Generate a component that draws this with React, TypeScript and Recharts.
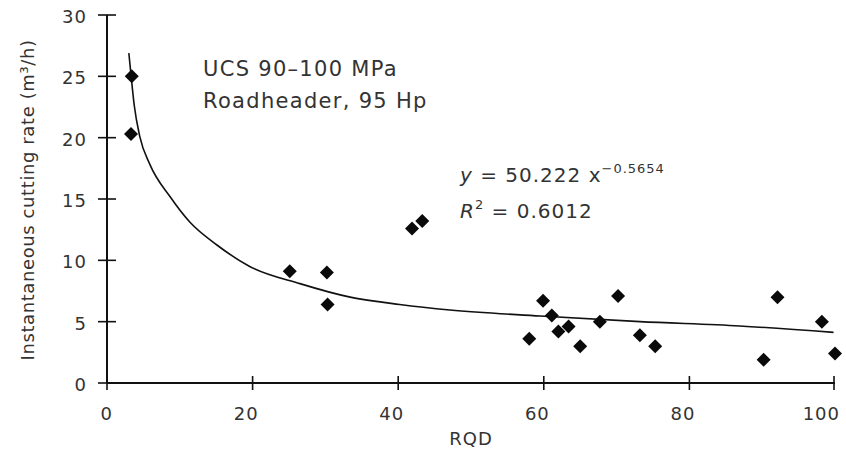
import { ScatterChart, Scatter, XAxis, YAxis } from "recharts"

// measured points (RQD %, instantaneous cutting rate m3/h)
const rqd = [3.4, 3.3, 25.1, 30.2, 30.3, 41.9, 43.3, 58.0, 59.9, 61.1, 62.0, 63.4, 65.0, 67.7, 70.2, 73.2, 75.3, 90.2, 92.1, 98.2, 100]
const cuttingRate = [25.0, 20.3, 9.1, 9.0, 6.4, 12.6, 13.2, 3.6, 6.7, 5.5, 4.2, 4.6, 3.0, 5.0, 7.1, 3.9, 3.0, 1.9, 7.0, 5.0, 2.4]

// power trend line
const fitRqd = [3.0, 3.3, 3.75, 4.5, 5.9, 8.65, 11.4, 15.1, 19.6, 26.5, 33.4, 40.2, 47.1, 59.5, 73.2, 86.9, 99.8]
const fitRate = [26.9, 25.1, 22.6, 20.1, 17.8, 15.2, 13.1, 11.25, 9.5, 8.1, 7.0, 6.4, 5.95, 5.46, 5.0, 4.65, 4.13]

const xTicks = [0, 20, 40, 60, 80, 100]
const yTicks = [0, 5, 10, 15, 20, 25, 30]

const points = rqd.map((x, i) => ({ x, y: cuttingRate[i] }))
const fit = fitRqd.map((x, i) => ({ x, y: fitRate[i] }))

const W = 846
const H = 459
const font = "'DejaVu Sans', Verdana, sans-serif"

const XTick = (props: any) => {
  const { x, y, payload } = props
  return (
    <g>
      <line x1={x} x2={x} y1={y - 7} y2={y + 7} stroke="#111" strokeWidth={1.6} />
      <text x={x + 6} y={y + 37} textAnchor="end" fontSize={18} fill="#333" fontFamily={font} letterSpacing={1}>
        {payload.value}
      </text>
    </g>
  )
}

const YTick = (props: any) => {
  const { x, y, payload } = props
  return (
    <g>
      <line x1={x - 9} x2={x + 9} y1={y} y2={y} stroke="#111" strokeWidth={1.6} />
      <text x={x - 20} y={y + 8} textAnchor="end" fontSize={18} fill="#333" fontFamily={font} letterSpacing={1}>
        {payload.value}
      </text>
    </g>
  )
}

const Diamond = (props: any) => {
  const { cx, cy } = props
  return <path d={`M${cx},${cy - 7}L${cx + 7},${cy}L${cx},${cy + 7}L${cx - 7},${cy}Z`} fill="#0a0a0a" />
}

export default function App() {
  return (
    <div style={{ position: "absolute", left: 0, top: 0, width: W, height: H, background: "#fff" }}>
      <ScatterChart width={W} height={H} margin={{ top: 15, right: 11, bottom: 0, left: 0 }}>
        <XAxis
          type="number"
          dataKey="x"
          domain={[0, 100]}
          ticks={xTicks}
          height={76}
          axisLine={{ stroke: "#111", strokeWidth: 2 }}
          tickLine={false}
          tickSize={0}
          tickMargin={0}
          tick={<XTick />}
        />
        <YAxis
          type="number"
          dataKey="y"
          domain={[0, 30]}
          ticks={yTicks}
          width={107}
          axisLine={{ stroke: "#111", strokeWidth: 2 }}
          tickLine={false}
          tickSize={0}
          tickMargin={0}
          tick={<YTick />}
        />
        <Scatter
          data={fit}
          line={{ stroke: "#111", strokeWidth: 1.6 }}
          lineJointType="monotoneX"
          shape={() => <g />}
          isAnimationActive={false}
        />
        <Scatter data={points} shape={<Diamond />} isAnimationActive={false} />
      </ScatterChart>
      <svg width={W} height={H} style={{ position: "absolute", left: 0, top: 0, pointerEvents: "none" }}>
        <g fontFamily={font} fill="#333">
          <text x={471} y={445} textAnchor="middle" fontSize={18} letterSpacing={1}>RQD</text>
          <text
            transform="translate(34,200) rotate(-90)"
            textAnchor="middle"
            fontSize={18}
            letterSpacing={0.6}
          >
            Instantaneous cutting rate (m³/h)
          </text>
          <text x={203} y={76} fontSize={21} letterSpacing={1.3}>UCS 90–100 MPa</text>
          <text x={203} y={108} fontSize={21} letterSpacing={1.3}>Roadheader, 95 Hp</text>
          <text x={460} y={182} fontSize={20} letterSpacing={1}>
            <tspan fontStyle="italic">y</tspan> = 50.222 x
            <tspan fontSize={13} dy={-9}>−0.5654</tspan>
          </text>
          <text x={460} y={218} fontSize={20} letterSpacing={1}>
            <tspan fontStyle="italic">R</tspan>
            <tspan fontSize={13} dy={-9}>2</tspan>
            <tspan dy={9}> = 0.6012</tspan>
          </text>
        </g>
      </svg>
    </div>
  )
}
